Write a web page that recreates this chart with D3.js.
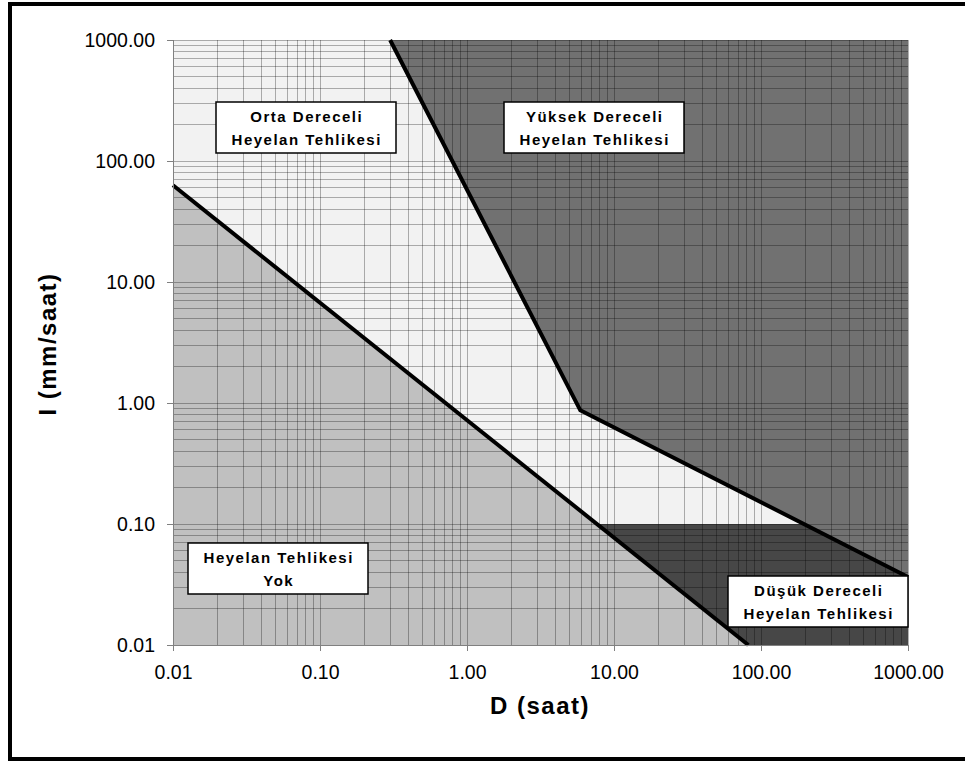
<!DOCTYPE html>
<html lang="tr">
<head>
<meta charset="UTF-8">
<title>I-D Heyelan Tehlikesi</title>
<style>
  body { margin: 0; background: #fff; }
  svg { display: block; font-family: "Liberation Sans", Arial, sans-serif; }
  .tick text { font-size: 19.5px; fill: #000; }
  .box-text { font-size: 15px; font-weight: bold; letter-spacing: 1.5px; }
  .axis-title { font-size: 24px; font-weight: bold; letter-spacing: 1.5px; }
</style>
</head>
<body>
<div id="chart"></div>
<script src="https://cdnjs.cloudflare.com/ajax/libs/d3/7.8.5/d3.min.js"></script>
<script>
// axis ticks (decades)
const xTicks = [0.01, 0.1, 1, 10, 100, 1000];
const yTicks = [0.01, 0.1, 1, 10, 100, 1000];

// threshold lines
const lowerD = [0.01, 82];
const lowerI = [63, 0.01];
const upperD = [0.3, 5.9, 1000];
const upperI = [1000, 0.87, 0.0365];

// filled zones
const noneD = [0.01, 0.01, 82];
const noneI = [0.01, 63, 0.01];
const highD = [0.3, 1000, 1000, 5.9];
const highI = [1000, 1000, 0.0365, 0.87];
const lowD = [7.6, 195, 1000, 1000, 82];
const lowI = [0.1, 0.1, 0.0365, 0.01, 0.01];

const labels = [
    ["Orta Dereceli", "Heyelan Tehlikesi"],
    ["Yüksek Dereceli", "Heyelan Tehlikesi"],
    ["Heyelan Tehlikesi", "Yok"],
    ["Düşük Dereceli", "Heyelan Tehlikesi"]
];

const W = 965, H = 762;
const margin = { top: 40, right: 57, bottom: 117, left: 173 };
const width = W - margin.left - margin.right;
const height = H - margin.top - margin.bottom;

const svg = d3.select("#chart").append("svg")
    .attr("width", W)
    .attr("height", H);

// outer frame (right side runs off the picture)
svg.append("rect")
    .attr("x", 10).attr("y", 4)
    .attr("width", 970).attr("height", 755)
    .attr("fill", "none")
    .attr("stroke", "#000")
    .attr("stroke-width", 4);

const g = svg.append("g").attr("transform", `translate(${margin.left},${margin.top})`);

const x = d3.scaleLog().domain([0.01, 1000]).range([0, width]);
const y = d3.scaleLog().domain([0.01, 1000]).range([height, 0]);

// background (medium zone)
g.append("rect")
    .attr("width", width).attr("height", height)
    .attr("fill", "#f2f2f2");

function zone(ds, is, fill) {
    const pts = ds.map((d, i) => [x(d), y(is[i])]);
    g.append("path")
        .attr("d", d3.line()(pts) + "Z")
        .attr("fill", fill);
}
zone(noneD, noneI, "#c0c0c0");
zone(highD, highI, "#717171");
zone(lowD, lowI, "#474747");

// log grid
const minor = [];
for (let e = -2; e < 3; e++) {
    for (let k = 1; k < 10; k++) minor.push(k * Math.pow(10, e));
}
minor.push(1000);

g.append("g").selectAll("line")
    .data(minor)
    .join("line")
    .attr("x1", d => x(d)).attr("x2", d => x(d))
    .attr("y1", 0).attr("y2", height)
    .attr("stroke", "#000")
    .attr("stroke-opacity", 0.3)
    .attr("shape-rendering", "crispEdges");

g.append("g").selectAll("line")
    .data(minor)
    .join("line")
    .attr("y1", d => y(d)).attr("y2", d => y(d))
    .attr("x1", 0).attr("x2", width)
    .attr("stroke", "#000")
    .attr("stroke-opacity", 0.3)
    .attr("shape-rendering", "crispEdges");

// threshold lines
const line = d3.line().x(d => x(d[0])).y(d => y(d[1]));
g.append("path")
    .attr("d", line(lowerD.map((d, i) => [d, lowerI[i]])))
    .attr("fill", "none").attr("stroke", "#000").attr("stroke-width", 4);
g.append("path")
    .attr("d", line(upperD.map((d, i) => [d, upperI[i]])))
    .attr("fill", "none").attr("stroke", "#000").attr("stroke-width", 4)
    .attr("stroke-linejoin", "miter");

// axes
const fmt = d3.format(".2f");
const xAxis = g.append("g")
    .attr("transform", `translate(0,${height})`)
    .call(d3.axisBottom(x).tickValues(xTicks).tickFormat(fmt).tickSize(6).tickPadding(14));
const yAxis = g.append("g")
    .call(d3.axisLeft(y).tickValues(yTicks).tickFormat(fmt).tickSize(6).tickPadding(12));
[xAxis, yAxis].forEach(a => {
    a.select(".domain").attr("stroke", "#808080");
    a.selectAll(".tick line").attr("stroke", "#808080");
    a.selectAll(".tick text").attr("font-family", null).attr("font-size", null);
});

// label boxes
const boxes = [
    { x: 216, y: 102 },
    { x: 504, y: 102 },
    { x: 188, y: 543 },
    { x: 728, y: 576 }
];
labels.forEach((lines, i) => {
    const b = boxes[i];
    const bw = 180, bh = 51;
    const bg = svg.append("g").attr("transform", `translate(${b.x},${b.y})`);
    bg.append("rect")
        .attr("width", bw).attr("height", bh)
        .attr("fill", "#fff")
        .attr("stroke", "#000")
        .attr("stroke-width", 1.5);
    lines.forEach((t, j) => {
        bg.append("text")
            .attr("class", "box-text")
            .attr("x", bw / 2 + 0.75)
            .attr("y", 19.5 + j * 23)
            .attr("text-anchor", "middle")
            .text(t);
    });
});

// axis titles
svg.append("text")
    .attr("class", "axis-title")
    .attr("x", 540).attr("y", 714)
    .attr("text-anchor", "middle")
    .text("D (saat)");
svg.append("text")
    .attr("class", "axis-title")
    .attr("transform", "translate(56,344) rotate(-90)")
    .attr("text-anchor", "middle")
    .text("I (mm/saat)");
</script>
</body>
</html>
